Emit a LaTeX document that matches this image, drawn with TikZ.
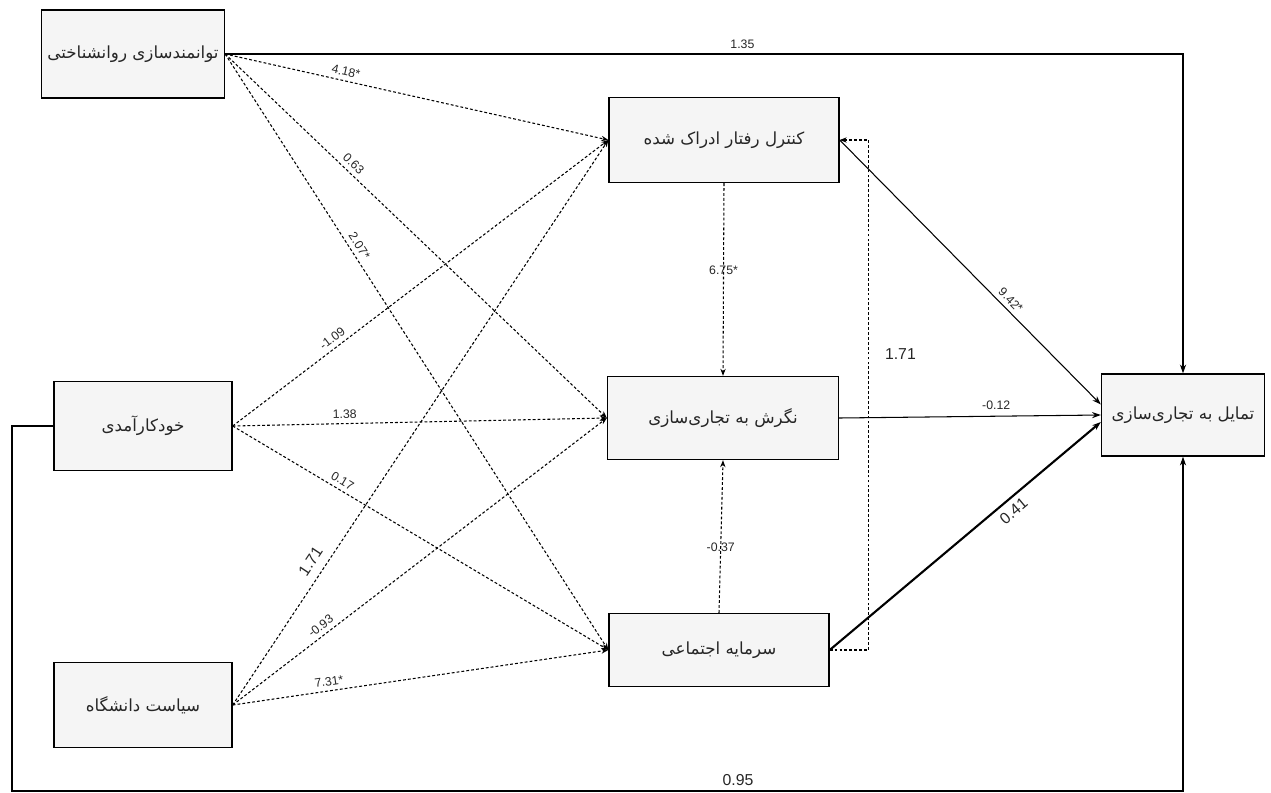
\documentclass[tikz,border=0pt]{standalone}
\usepackage{fontspec}
\setmainfont{Liberation Sans}
\newfontfamily\farsi[Script=Arabic]{DejaVu Sans}
\TeXXeTstate=1
\usetikzlibrary{arrows.meta}
\newcommand{\fa}[1]{{\farsi\beginR #1\endR}}

\tikzset{
  caja/.style={draw,line width=0.8pt,fill=gray!8,text=black!85,font=\fontsize{9.5}{11}\selectfont},
  punteada/.style={dash pattern=on 1.6pt off 1.2pt,line width=0.6pt,-{Stealth[length=4pt,width=3pt]}},
  flecha/.style={line width=0.6pt,-{Stealth[length=5pt,width=3.5pt]}},
  coef/.style={font=\fontsize{7}{8}\selectfont,text=black!85,inner sep=2.5pt},
  coefg/.style={font=\fontsize{9}{10}\selectfont,text=black!85,inner sep=3pt}
}

\begin{document}
\begin{tikzpicture}[x=0.02cm,y=-0.02cm]
    \useasboundingbox (0,0) rectangle (1271,792);

    \node[caja,minimum width=3.62cm,minimum height=1.76cm] (pe) at (133,54) {\fa{توانمندسازی روانشناختی}};
    \node[caja,minimum width=3.56cm,minimum height=1.78cm] (se) at (143,426) {\fa{خودکارآمدی}};
    \node[caja,minimum width=3.56cm,minimum height=1.70cm] (up) at (143,705) {\fa{سیاست دانشگاه}};

    \node[caja,minimum width=4.6cm,minimum height=1.7cm] (pbc) at (724,140) {\fa{کنترل رفتار ادراک شده}};
    \node[caja,minimum width=4.62cm,minimum height=1.66cm] (att) at (723,418) {\fa{نگرش به تجاری‌سازی}};
    \node[caja,minimum width=4.4cm,minimum height=1.46cm] (sc) at (719,650) {\fa{سرمایه اجتماعی}};

    \node[caja,minimum width=3.26cm,minimum height=1.64cm] (int) at (1183,415) {\fa{تمایل به تجاری‌سازی}};

    % Flechas punteadas
    \foreach \de/\a/\p/\t in {
        pe/pbc/0.31/4.18*,
        pe/att/0.32/0.63,
        pe/sc/0.33/2.07*,
        se/pbc/0.28/-1.09,
        se/att/0.3/1.38,
        se/sc/0.28/0.17,
        up/att/0.25/-0.93,
        up/sc/0.26/7.31*}{
      \draw[punteada] (\de.east) -- node[coef,sloped,above,pos=\p]{\t} (\a.west);
    }
    \draw[punteada] (up.east) -- node[coefg,sloped,above,pos=0.24,inner sep=5pt]{1.71} (pbc.west);

    \draw[punteada] (pbc.south) -- node[coef,pos=0.45]{6.75*} (att.north);
    \draw[punteada] (sc.north) -- node[coef,pos=0.43]{-0.37} (att.south);
    \draw[punteada] (sc.east) -- ++(39,0) |- node[coefg,right,pos=0.29,xshift=6pt]{1.71} (pbc.east);

    % Flechas continuas
    \draw[flecha] (pbc.east) -- node[coef,sloped,above,pos=0.63]{9.42*} ([yshift=6pt]int.west);
    \draw[flecha] (att.east) -- node[coef,above,pos=0.6,yshift=1pt]{-0.12} (int.west);
    \draw[flecha,line width=1.2pt] (sc.east) -- node[coefg,sloped,below,pos=0.65]{0.41} ([yshift=-4pt]int.west);

    \draw[flecha] (pe.east) -| node[coef,above,pos=0.27]{1.35} (int.north);
    \coordinate (abajo) at (12,791);
    \draw[flecha] (se.west) -| (abajo) -| node[coefg,above,pos=0.31]{0.95} (int.south);

  \end{tikzpicture}
\end{document}
